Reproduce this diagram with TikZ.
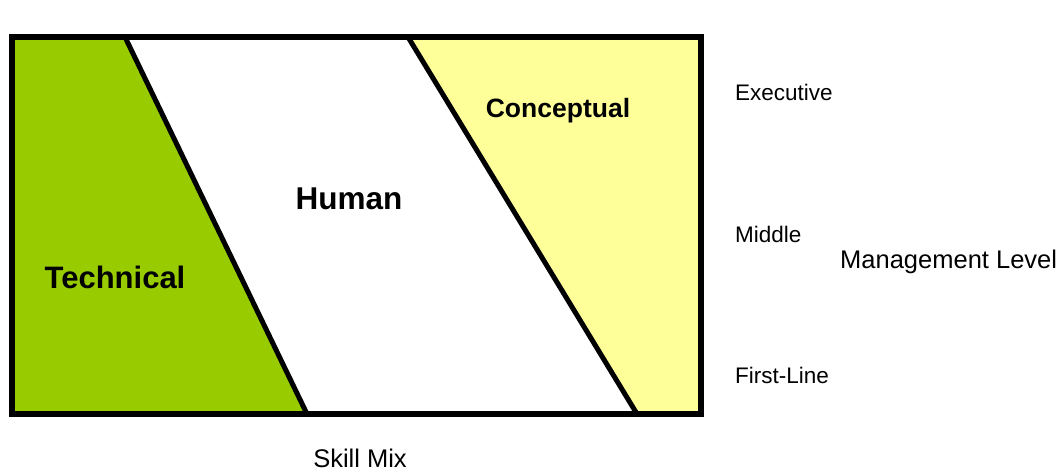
\documentclass[tikz,border=0pt]{standalone}
\usepackage{fontspec}
\newfontfamily\labfont{Liberation Sans}
\definecolor{techgreen}{HTML}{99CC00}
\definecolor{concyellow}{HTML}{FFFF99}
\begin{document}
\begin{tikzpicture}[x=1pt,y=-1pt,
  region/.style={font=\labfont\bfseries, text=black, anchor=base, inner sep=0pt},
  level/.style={font=\labfont\fontsize{22.5}{22.5}\selectfont, text=black, anchor=base west, inner sep=0pt},
  border/.style={line width=6pt, black, line join=miter}]
\useasboundingbox[fill=white] (0,0) rectangle (1064,473);
\coordinate (tl) at (12,37);
\coordinate (tr) at (701,37);
\coordinate (br) at (701,414);
\coordinate (bl) at (12,414);
\coordinate (g1) at (125,37);
\coordinate (g2) at (307,414);
\coordinate (y1) at (408,37);
\coordinate (y2) at (637,414);
\fill[techgreen] (tl) -- (g1) -- (g2) -- (bl) -- cycle;
\fill[concyellow] (y1) -- (tr) -- (br) -- (y2) -- cycle;
\draw[line width=5pt] (g1) -- (g2);
\draw[line width=5pt] (y1) -- (y2);
\draw[border] (tl) rectangle (br);
\node[region, font=\labfont\bfseries\fontsize{31}{31}\selectfont] (tech) at (115,288) {Technical};
\node[region, font=\labfont\bfseries\fontsize{31.5}{31.5}\selectfont] (human) at (349,209) {Human};
\node[region, font=\labfont\bfseries\fontsize{26.5}{26.5}\selectfont] (conc) at (558,118) {Conceptual};
\node[level] (exec) at (735,101) {Executive};
\node[level] (mid) at (735,242) {Middle};
\node[level, font=\labfont\fontsize{25.5}{25.5}\selectfont] (mgmt) at (840,268) {Management Level};
\node[level] (first) at (735,383) {First-Line};
\node[level, anchor=base, font=\labfont\fontsize{25.5}{25.5}\selectfont] (skill) at (360,467) {Skill Mix};
\end{tikzpicture}
\end{document}
